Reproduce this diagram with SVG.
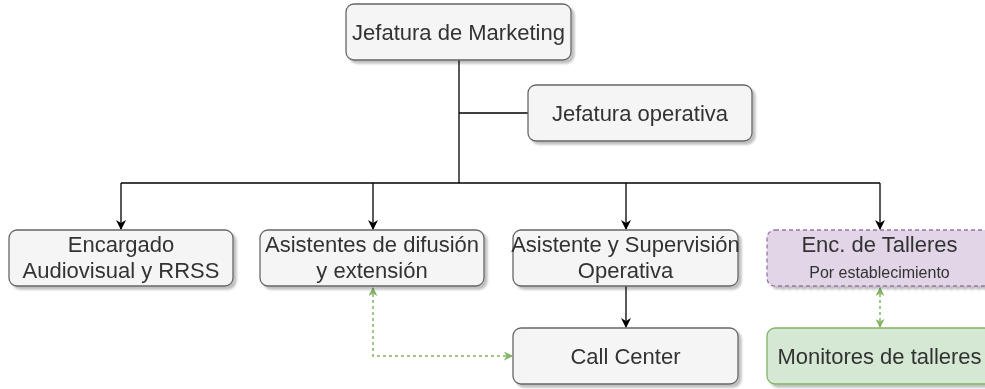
<svg xmlns="http://www.w3.org/2000/svg" width="985" height="389" viewBox="0 0 985 389">
<style>
.box{fill:#f5f5f5;stroke:#666666;stroke-width:1.3}
.t{font-family:"Liberation Sans",Arial,sans-serif;font-size:22px;fill:#333333;text-anchor:middle}
.s{font-family:"Liberation Sans",Arial,sans-serif;font-size:16px;fill:#333333;text-anchor:middle}
.c{fill:none;stroke:#000000;stroke-width:1.3}
.g{fill:none;stroke:#82b366;stroke-width:1.5;stroke-dasharray:3 3}
</style>
<defs>
<marker id="ab" viewBox="0 0 10 10" refX="9" refY="5" markerWidth="10" markerHeight="10" orient="auto" markerUnits="userSpaceOnUse">
<path d="M0,0 L10,5 L0,10 L3,5 Z" fill="#000000"/>
</marker>
<marker id="ag" viewBox="0 0 10 10" refX="9" refY="5" markerWidth="9" markerHeight="9" orient="auto" markerUnits="userSpaceOnUse">
<path d="M0,0 L10,5 L0,10 L3,5 Z" fill="#82b366"/>
</marker>
<marker id="ags" viewBox="0 0 10 10" refX="1" refY="5" markerWidth="9" markerHeight="9" orient="auto" markerUnits="userSpaceOnUse">
<path d="M10,0 L0,5 L10,10 L7,5 Z" fill="#82b366"/>
</marker>
<filter id="shadow" x="-10%" y="-10%" width="130%" height="140%">
<feGaussianBlur in="SourceAlpha" stdDeviation="1.2"/>
<feOffset dx="3" dy="3" result="b"/>
<feComponentTransfer><feFuncA type="linear" slope="0.25"/></feComponentTransfer>
<feMerge><feMergeNode/><feMergeNode in="SourceGraphic"/></feMerge>
</filter>
</defs>
<g id="connectors">
<path class="c" d="M459,60 V183"/>
<path class="c" d="M459,113 H528"/>
<path class="c" d="M121,183 H880"/>
<path class="c" d="M121,183 V229" marker-end="url(#ab)"/>
<path class="c" d="M373,183 V229" marker-end="url(#ab)"/>
<path class="c" d="M626,183 V229" marker-end="url(#ab)"/>
<path class="c" d="M880,183 V229" marker-end="url(#ab)"/>
<path class="c" d="M626,286 V327" marker-end="url(#ab)"/>
<path class="g" d="M373,288 V356 H512" marker-start="url(#ags)" marker-end="url(#ag)"/>
<path class="g" d="M880,288 V327" marker-start="url(#ags)" marker-end="url(#ag)"/>
</g>
<g id="n1" filter="url(#shadow)"><rect class="box" x="346" y="4" width="225" height="56" rx="8"/><text class="t" x="458.5" y="40">Jefatura de Marketing</text></g>
<g id="n2" filter="url(#shadow)"><rect class="box" x="528" y="85" width="224" height="56" rx="8"/><text class="t" x="640" y="121">Jefatura operativa</text></g>
<g id="n3" filter="url(#shadow)"><rect class="box" x="9" y="230" width="224" height="56" rx="8"/><text class="t" x="121" y="252">Encargado</text><text class="t" x="121" y="278">Audiovisual y RRSS</text></g>
<g id="n4" filter="url(#shadow)"><rect class="box" x="260" y="230" width="224" height="56" rx="8"/><text class="t" x="372" y="252">Asistentes de difusión</text><text class="t" x="372" y="278">y extensión</text></g>
<g id="n5" filter="url(#shadow)"><rect class="box" x="513" y="230" width="225" height="56" rx="8"/><text class="t" x="625.5" y="252">Asistente y Supervisión</text><text class="t" x="625.5" y="278">Operativa</text></g>
<g id="n6" filter="url(#shadow)"><rect x="767" y="230" width="225" height="56" rx="8" fill="#e1d5e7" stroke="#9673a6" stroke-width="1.3" stroke-dasharray="4 3"/><text class="t" x="879.5" y="252">Enc. de Talleres</text><text class="s" x="879.5" y="278">Por establecimiento</text></g>
<g id="n7" filter="url(#shadow)"><rect class="box" x="513" y="328" width="225" height="56" rx="8"/><text class="t" x="625.5" y="364">Call Center</text></g>
<g id="n8" filter="url(#shadow)"><rect x="767" y="328" width="225" height="56" rx="8" fill="#d5e8d4" stroke="#82b366" stroke-width="1.3"/><text class="t" x="879.5" y="364">Monitores de talleres</text></g>
</svg>
